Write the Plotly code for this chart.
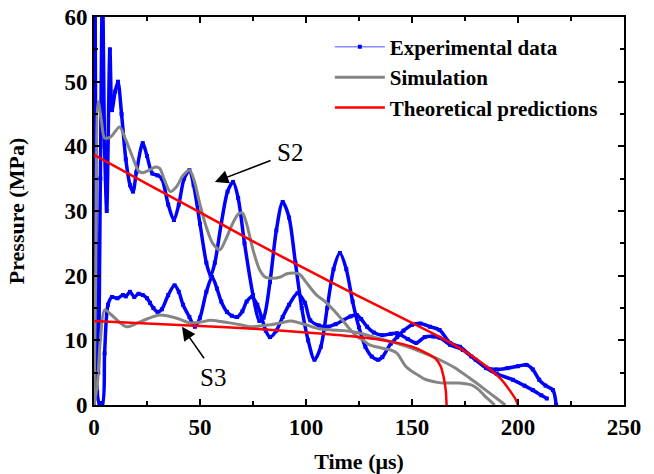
import plotly.graph_objects as go

# ---------------- data ----------------
exp_s2_t = [0, 0.5, 1.2, 2, 3, 4, 5, 6, 7.5, 8.5, 10, 11.3, 13, 15, 17, 18.4, 20, 23, 25, 27.5, 30, 32, 35, 37.7,
            40, 42.5, 45, 47, 50, 53, 55, 57, 60, 63, 65.6, 68, 71, 75, 78, 80, 83, 86, 89, 92, 95, 98, 101,
            104, 107, 110, 113, 116, 119, 122, 125, 128, 131, 134, 136, 140, 143, 146, 150, 154, 158.5, 163,
            168, 172.6, 178, 185, 190, 195, 200, 204, 207, 210, 213, 216.5, 218]
exp_s2_p = [0, 65, 15, 5, 35, 65, 40, 30, 55, 45.6, 48.5, 50, 45, 38, 34, 33, 36, 40.5, 38.5, 35.8, 35.5, 35, 31, 28.6,
            31, 35, 36.3, 34, 28, 22, 20, 22, 28, 33, 34.5, 32, 25, 17, 13, 13.5, 19, 27, 31.4, 29, 22, 15, 10,
            7, 9, 15, 21, 23.5, 21, 16, 12, 9, 7.5, 7, 7.4, 9.5, 10.5, 11.5, 12.4, 12.6, 12.1, 11.6,
            9.6, 9, 7.5, 5.8, 5.5, 5.7, 6, 6.2, 5.5, 3.9, 3, 2.3, 0]

exp_s3_t = [0, 0.7, 1.5, 2.5, 4, 5, 6.6, 8.5, 11, 13.7, 15, 17, 19, 21, 23, 25, 26.4, 28, 30, 32, 35, 38, 40, 42,
            45, 47.6, 50, 53, 55.7, 58, 60, 62.7, 65, 67.5, 70, 72, 74.5, 77, 79, 81, 83, 86, 89, 92, 96, 99.5,
            102, 106, 110, 114, 117.5, 121, 124, 126, 128.8, 132, 136, 140, 143, 148, 152, 156, 160, 163, 168,
            174, 180, 185, 190, 197.6, 203, 207, 211, 213.6]
exp_s3_p = [0, 10, 2, 0.3, 0.3, 8, 15.5, 16.7, 16.5, 17, 16.8, 17.5, 16.7, 17.2, 17, 16.5, 15.8, 15, 14.4, 14.8, 17,
            18.5, 17.5, 15.5, 13.6, 12.1, 13.5, 17.5, 19.8, 18, 16, 14.4, 13.8, 13.6, 14.5, 16, 16.7, 15.5, 13.6,
            11.5, 10.5, 11.5, 13.6, 15.5, 17.3, 15.8, 13.1, 12.3, 12.1, 12.5, 13.1, 13.7, 13.9, 13.3, 12.1, 11.2,
            10.8, 11, 11.1, 10.2, 9.6, 10.5, 10.6, 10.4, 9.3, 8.5, 7, 5.7, 4.8, 3.9, 3, 2.3, 1.5, 1]

sim_s2_t = [0, 0.8, 2, 3.5, 5, 8, 12, 15, 18, 21, 23, 26, 29, 31, 33, 36, 39, 42, 45, 47, 50, 53, 56, 59.4, 62, 65,
            68, 70, 72, 75, 78, 80.7, 84, 88, 91, 94, 97, 100, 105, 109, 113, 117, 120, 124, 127, 130, 133, 137,
            140, 143, 145, 147, 150, 153, 156, 159, 162, 165, 168, 172, 175, 178, 181, 184, 187, 189]
sim_s2_p = [0, 20, 46.9, 44, 41.3, 41.5, 43, 41, 38.5, 36.2, 35.9, 36.3, 36.8, 36.6, 35, 33, 33.8, 35.5, 36.3, 35,
            31, 27.5, 25, 24, 25.5, 27.8, 29.5, 29.7, 28, 24, 21, 19.8, 19.6, 19.8, 20.3, 20.4, 20.2, 19, 17, 16,
            14.7, 13.2, 12, 10.6, 10, 9.3, 9, 8.7, 8.5, 8, 7, 6, 5.2, 4.6, 4, 3.7, 3.5, 3.4, 3.4, 3.4, 3.3, 3.1,
            2.5, 1.5, 0.6, 0]

sim_s3_t = [0, 1.5, 3, 5, 8, 12, 15.5, 20, 25, 31, 37, 41, 45, 50, 55, 60, 64, 69, 73.6, 78, 83, 88, 93, 100, 106,
            112, 118, 124, 132, 140, 148, 156, 163, 170, 177, 184, 190, 194]
sim_s3_p = [0, 3, 10, 14.7, 14, 12.8, 12.1, 12.6, 13.3, 13.9, 13.6, 13.2, 12.7, 12.8, 13.1, 12.9, 12.7, 12.4, 12.1,
            12.2, 12.4, 12.7, 13, 12.4, 11.8, 11.6, 11.5, 11.2, 10.5, 9.8, 9, 8, 7, 5.8, 4.2, 2.5, 1, 0]

theo_s2_t = [0, 25, 50, 75, 100, 125, 150, 165, 175, 185, 192, 196, 199, 200]
theo_s2_p = [38.7, 34.2, 29.8, 25.3, 21, 16.8, 12.7, 10.2, 8.3, 6, 4, 2.3, 0.8, 0]

theo_s3_t = [0, 25, 50, 75, 100, 125, 140, 150, 157, 161, 163.5, 165, 166, 166.3]
theo_s3_p = [13, 12.6, 12.2, 11.8, 11.2, 10.5, 9.8, 9, 8, 7.2, 6.0, 4.2, 2, 0]

x_ticks = [0, 50, 100, 150, 200, 250]
y_ticks = [0, 10, 20, 30, 40, 50, 60]

FONT = "Liberation Serif, Times New Roman, serif"
BLUE = "#0000ff"
GRAY = "#858585"
RED = "#ff0000"

fig = go.Figure()

for t, p in [(exp_s2_t, exp_s2_p), (exp_s3_t, exp_s3_p)]:
    fig.add_trace(go.Scatter(x=t, y=p, mode="lines+markers",
                             line=dict(color=BLUE, width=3.5, shape="spline", smoothing=0.8),
                             marker=dict(color=BLUE, size=4, symbol="square"), showlegend=False))
fig.add_trace(go.Scatter(x=[None], y=[None], mode="lines+markers", name="<b>Experimental data</b>",
                         line=dict(color="#4d4dff", width=1), marker=dict(color=BLUE, size=4, symbol="square")))
for i, (t, p) in enumerate([(sim_s2_t, sim_s2_p), (sim_s3_t, sim_s3_p)]):
    fig.add_trace(go.Scatter(x=t, y=p, mode="lines", line=dict(color=GRAY, width=3, shape="spline", smoothing=0.8),
                             name="<b>Simulation</b>", showlegend=(i == 0)))
for i, (t, p) in enumerate([(theo_s2_t, theo_s2_p), (theo_s3_t, theo_s3_p)]):
    fig.add_trace(go.Scatter(x=t, y=p, mode="lines", line=dict(color=RED, width=2.5, shape="spline", smoothing=0.6),
                             name="<b>Theoretical predictions</b>", showlegend=(i == 0)))

axis_common = dict(showline=True, linecolor="black", linewidth=2, mirror="ticks", ticks="inside", ticklen=6,
                   tickwidth=2, tickcolor="black", showgrid=False, zeroline=False, automargin=False,
                   tickfont=dict(family=FONT, size=23, color="black"))
fig.update_xaxes(range=[0, 250], tickvals=x_ticks, ticktext=[f"<b>{v}</b>" for v in x_ticks],
                 minor=dict(dtick=25, tick0=0, ticks="inside", ticklen=4, tickwidth=2, tickcolor="black"),
                 title=dict(text="<b>Time (μs)</b>", font=dict(family=FONT, size=22, color="black"), standoff=16),
                 **axis_common)
fig.update_yaxes(range=[0, 60], tickvals=y_ticks, ticktext=[f"<b>{v}</b>" for v in y_ticks],
                 minor=dict(dtick=5, tick0=0, ticks="inside", ticklen=4, tickwidth=2, tickcolor="black"),
                 title=dict(text="<b>Pressure (MPa)</b>", font=dict(family=FONT, size=22, color="black"), standoff=34),
                 **axis_common)

# arrows and labels
fig.add_annotation(x=57, y=34.5, ax=84, ay=37.9, axref="x", ayref="y", xref="x", yref="y", text="",
                   showarrow=True, arrowhead=2, arrowsize=1.8, arrowwidth=1.5, arrowcolor="black")
fig.add_annotation(x=92.5, y=39, text="S2", showarrow=False, font=dict(family=FONT, size=25, color="black"))
fig.add_annotation(x=41.5, y=12.1, ax=52.4, ay=7, axref="x", ayref="y", xref="x", yref="y", text="",
                   showarrow=True, arrowhead=2, arrowsize=1.8, arrowwidth=1.5, arrowcolor="black")
fig.add_annotation(x=56, y=4.2, text="S3", showarrow=False, font=dict(family=FONT, size=25, color="black"))

fig.update_layout(
    width=654, height=474, margin=dict(l=94, r=30, t=17, b=69),
    paper_bgcolor="white", plot_bgcolor="white",
    font=dict(family=FONT, color="black"),
    legend=dict(x=0.445, y=0.975, xanchor="left", yanchor="top", bgcolor="rgba(0,0,0,0)",
                font=dict(family=FONT, size=21, color="black"), itemwidth=50, tracegroupgap=0),
)

fig.write_html("out.html")
